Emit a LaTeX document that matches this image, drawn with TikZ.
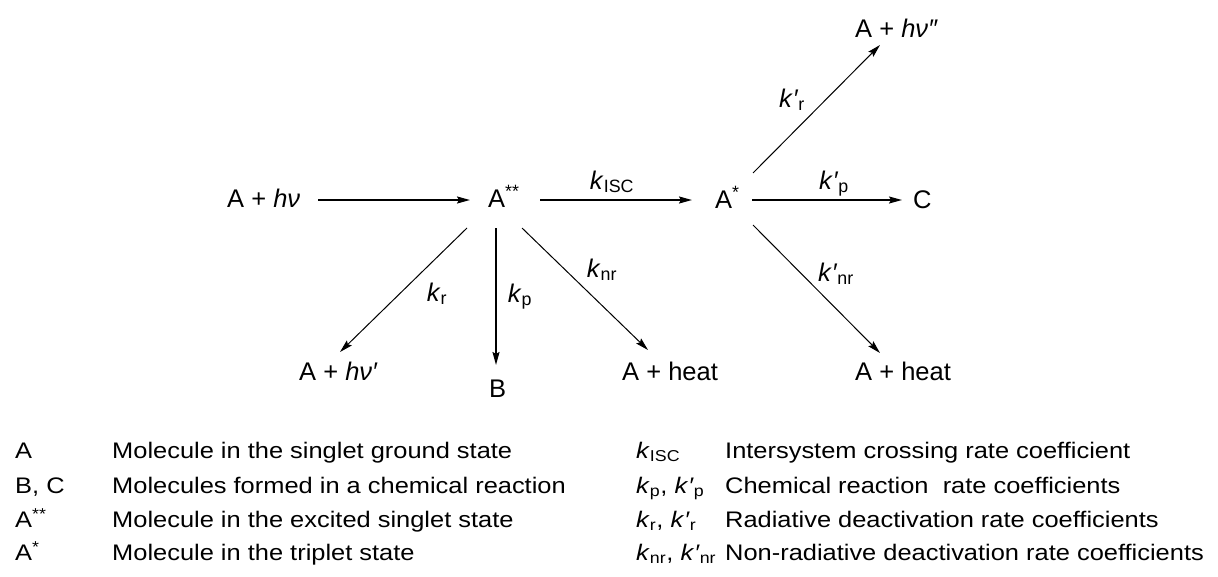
\documentclass[tikz,border=0pt]{standalone}
\usepackage{fontspec}
\usepackage{graphicx}
\setmainfont{Liberation Sans}
\usetikzlibrary{arrows.meta}
\newcommand\kk{\textit{k}}
\newcommand\kpr{\textit{k}\textit{′}}
\newcommand\legtext[1]{\scalebox{1.13}[1]{#1}}
\begin{document}
\begin{tikzpicture}[x=1pt,y=-1pt,
  lbl/.style={inner sep=0pt,anchor=base,font=\fontsize{25.5}{30}\selectfont},
  spec/.style={inner sep=0pt,anchor=base west,font=\fontsize{25.5}{30}\selectfont},
  leg/.style={inner sep=0pt,anchor=base west,font=\fontsize{22.5}{26}\selectfont},
  arr/.style={-{Stealth[length=13pt,width=7pt,inset=2pt]},line width=1pt},
  thick arr/.style={arr,line width=1.8pt},
  mid arr/.style={arr,line width=1.4pt}]
\useasboundingbox (0,0) rectangle (1218,576);
% species
\node[spec] (n0) at (227,207) {A + \textit{h}\textit{ν}};
\node[spec] (n1) at (488,207) {A\textsuperscript{**}};
\node[spec] (n2) at (715,208) {A\textsuperscript{*}};
\node[spec] (nC) at (913,208) {C};
\node[spec] (ntop) at (855,37) {A + \textit{h}\textit{ν″}};
\node[spec] (nbl) at (299,380) {A + \textit{h}\textit{ν′}};
\node[spec] (nB) at (489,397) {B};
\node[spec] (nh1) at (622,380) {A + heat};
\node[spec] (nh2) at (855,380) {A + heat};
% rate labels
\node[lbl] (lisc) at (612,189) {\kk\textsubscript{ISC}};
\node[lbl] (lpp) at (834,189) {\kpr\textsubscript{p}};
\node[lbl] (lrp) at (792,107) {\kpr\textsubscript{r}};
\node[lbl] (lr) at (437,301) {\kk\textsubscript{r}};
\node[lbl] (lp) at (520,302) {\kk\textsubscript{p}};
\node[lbl] (lnr) at (602,277) {\kk\textsubscript{nr}};
\node[lbl] (lnrp) at (836,281) {\kpr\textsubscript{nr}};
% connectors
\draw[thick arr] ([xshift=91pt,yshift=7pt]n0.base west) -- ([xshift=-18pt,yshift=7pt]n1.base west);
\draw[thick arr] ([xshift=52pt,yshift=7pt]n1.base west) -- ([xshift=-23pt,yshift=8pt]n2.base west);
\draw[mid arr] ([xshift=37pt,yshift=8pt]n2.base west) -- ([xshift=-11pt,yshift=8pt]nC.base west);
\draw[arr] ([xshift=38pt,yshift=35pt]n2.base west) -- ([xshift=25pt,yshift=-8pt]ntop.base west);
\draw[arr] ([xshift=-21pt,yshift=-21pt]n1.base west) -- ([xshift=41pt,yshift=28pt]nbl.base west);
\draw[thick arr] ([xshift=8pt,yshift=-21pt]n1.base west) -- ([xshift=7pt,yshift=32pt]nB.base west);
\draw[arr] ([xshift=34pt,yshift=-21pt]n1.base west) -- ([xshift=26pt,yshift=30pt]nh1.base west);
\draw[arr] ([xshift=38pt,yshift=-17pt]n2.base west) -- ([xshift=25pt,yshift=27pt]nh2.base west);
% legend left
\node[leg] (s1) at (15,458) {\legtext{A}};
\node[leg] (d1) at (112,458) {\legtext{Molecule in the singlet ground state}};
\node[leg] (s2) at (15,493) {\legtext{B, C}};
\node[leg] (d2) at (112,493) {\legtext{Molecules formed in a chemical reaction}};
\node[leg] (s3) at (15,527) {\legtext{A\textsuperscript{**}}};
\node[leg] (d3) at (112,527) {\legtext{Molecule in the excited singlet state}};
\node[leg] (s4) at (15,560) {\legtext{A\textsuperscript{*}}};
\node[leg] (d4) at (112,560) {\legtext{Molecule in the triplet state}};
% legend right
\node[leg] (r1) at (636,458) {\legtext{\kk\textsubscript{ISC}}};
\node[leg] (e1) at (725,458) {\legtext{Intersystem crossing rate coefficient}};
\node[leg] (r2) at (636,493) {\legtext{\kk\textsubscript{p}, \kpr\textsubscript{p}}};
\node[leg] (e2) at (725,493) {\legtext{Chemical reaction\ \ rate coefficients}};
\node[leg] (r3) at (636,527) {\legtext{\kk\textsubscript{r}, \kpr\textsubscript{r}}};
\node[leg] (e3) at (725,527) {\legtext{Radiative deactivation rate coefficients}};
\node[leg] (r4) at (636,560) {\legtext{\kk\textsubscript{nr}, \kpr\textsubscript{nr}}};
\node[leg] (e4) at (725,560) {\legtext{Non-radiative deactivation rate coefficients}};
\end{tikzpicture}
\end{document}
